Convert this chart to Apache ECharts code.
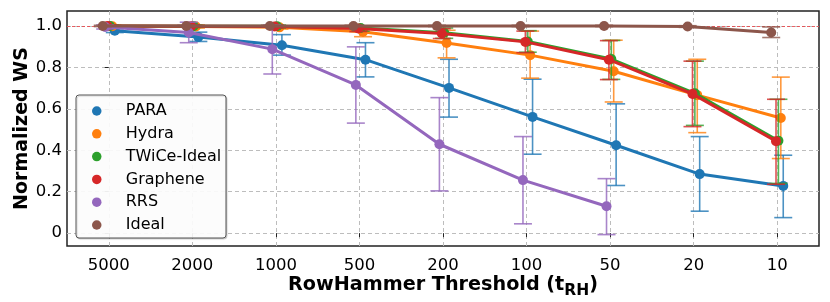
<!DOCTYPE html>
<html>
<head>
<meta charset="utf-8">
<script src="https://cdn.jsdelivr.net/npm/echarts@6/dist/echarts.min.js"></script>
<style>
html,body{margin:0;padding:0;background:#fff;}
#c{width:830px;height:302px;}
</style>
</head>
<body>
<div id="c"></div>
<script>
// ---- data ----
const categories = ['5000', '2000', '1000', '500', '200', '100', '50', '20', '10'];
const yTicks = [0, 0.2, 0.4, 0.6, 0.8, 1.0];
const yTickLabels = ['0', '0.2', '0.4', '0.6', '0.8', '1.0'];
const seriesNames = ['PARA', 'Hydra', 'TWiCe-Ideal', 'Graphene', 'RRS', 'Ideal'];

const paraVals  = [0.977, 0.946, 0.907, 0.837, 0.701, 0.561, 0.424, 0.285, 0.228];
const paraLo    = [0.968, 0.925, 0.859, 0.754, 0.560, 0.381, 0.230, 0.106, 0.075];
const paraHi    = [0.986, 0.970, 0.958, 0.919, 0.839, 0.743, 0.624, 0.466, 0.376];

const hydraVals = [0.998, 0.997, 0.993, 0.972, 0.918, 0.859, 0.781, 0.666, 0.556];
const hydraLo   = [0.990, 0.990, 0.985, 0.948, 0.846, 0.748, 0.633, 0.485, 0.360];
const hydraHi   = [1.005, 1.005, 1.000, 0.995, 0.979, 0.975, 0.931, 0.839, 0.753];

const twiceVals = [1.000, 0.999, 0.998, 0.990, 0.967, 0.925, 0.840, 0.675, 0.446];
const twiceLo   = [0.995, 0.993, 0.990, 0.975, 0.940, 0.873, 0.742, 0.520, 0.240];
const twiceHi   = [1.005, 1.004, 1.004, 1.000, 0.990, 0.977, 0.930, 0.830, 0.646];

const graphVals = [1.000, 0.999, 0.997, 0.988, 0.963, 0.923, 0.837, 0.672, 0.444];
const graphLo   = [0.995, 0.993, 0.990, 0.973, 0.939, 0.871, 0.741, 0.514, 0.236];
const graphHi   = [1.005, 1.004, 1.004, 1.000, 0.987, 0.975, 0.929, 0.830, 0.646];

const rrsVals   = [0.995, 0.968, 0.888, 0.715, 0.429, 0.256, 0.130, null, null];
const rrsLo     = [0.985, 0.919, 0.768, 0.531, 0.204, 0.045, -0.007, null, null];
const rrsHi     = [1.005, 1.018, 1.005, 0.899, 0.654, 0.466, 0.263, null, null];

const idealVals = [1.000, 1.000, 1.000, 1.000, 1.000, 1.000, 1.000, 0.997, 0.968];
const idealLo   = [0.997, 0.997, 0.997, 0.997, 0.997, 0.997, 0.997, 0.993, 0.944];
const idealHi   = [1.003, 1.003, 1.003, 1.003, 1.003, 1.003, 1.003, 1.001, 0.995];

// ---- styles ----
const colors = ['#1f77b4', '#ff7f0e', '#2ca02c', '#d62728', '#9467bd', '#8c564b'];
const dodge = [0.072, 0.043, 0.0144, -0.0144, -0.043, -0.072];
const FONT = 'DejaVu Sans';

const allVals = [paraVals, hydraVals, twiceVals, graphVals, rrsVals, idealVals];
const allLo = [paraLo, hydraLo, twiceLo, graphLo, rrsLo, idealLo];
const allHi = [paraHi, hydraHi, twiceHi, graphHi, rrsHi, idealHi];

const series = [];
seriesNames.forEach((name, s) => {
  const errData = [];
  categories.forEach((c, i) => {
    if (allVals[s][i] !== null) errData.push([i + dodge[s], allLo[s][i], allHi[s][i]]);
  });
  series.push({
    name: name + ' err',
    type: 'custom',
    z: 10 + 2 * s,
    silent: true,
    encode: { x: 0, y: [1, 2] },
    data: errData,
    renderItem: (params, api) => {
      const x = api.value(0);
      const lo = api.coord([x, api.value(1)]);
      const hi = api.coord([x, api.value(2)]);
      const cap = 9;
      const st = { stroke: colors[s], lineWidth: 1.6, opacity: 0.8 };
      return {
        type: 'group',
        children: [
          { type: 'line', shape: { x1: lo[0], y1: lo[1], x2: hi[0], y2: hi[1] }, style: st },
          { type: 'line', shape: { x1: lo[0] - cap, y1: lo[1], x2: lo[0] + cap, y2: lo[1] }, style: st },
          { type: 'line', shape: { x1: hi[0] - cap, y1: hi[1], x2: hi[0] + cap, y2: hi[1] }, style: st }
        ]
      };
    }
  });
  const lineSeries = {
    name: name,
    type: 'line',
    z: 11 + 2 * s,
    data: categories.map((c, i) => [i + dodge[s], allVals[s][i]]),
    symbol: 'circle',
    symbolSize: 10,
    showSymbol: true,
    connectNulls: false,
    itemStyle: { color: colors[s] },
    lineStyle: { color: colors[s], width: 3 },
    emphasis: { disabled: true }
  };
  if (s === 0) {
    lineSeries.markLine = {
      silent: true,
      symbol: ['none', 'none'],
      label: { show: false },
      lineStyle: { color: '#e8474a', type: [3, 2], width: 1.2, opacity: 0.85 },
      data: [{ yAxis: 1 }]
    };
  }
  series.push(lineSeries);
});

const option = {
  animation: false,
  backgroundColor: '#fff',
  textStyle: { fontFamily: FONT },
  grid: {
    left: 67, right: 11, top: 11, bottom: 56,
    containLabel: false,
    outerBoundsMode: 'none',
    show: true, borderColor: '#222', borderWidth: 1.5, backgroundColor: 'transparent'
  },
  xAxis: {
    type: 'value',
    min: -0.5,
    max: 8.5,
    name: '{a|RowHammer Threshold (t}{s|RH}{a|)}',
    nameLocation: 'middle',
    nameMoveOverlap: false,
    nameGap: 30,
    nameTextStyle: {
      rich: {
        a: { fontFamily: FONT, fontSize: 19.2, fontWeight: 'bold', color: '#000', lineHeight: 22, verticalAlign: 'top' },
        s: { fontFamily: FONT, fontSize: 15.5, fontWeight: 'bold', color: '#000', lineHeight: 22, verticalAlign: 'top', padding: [7, 0, 0, 0] }
      }
    },
    axisLine: { show: false },
    axisTick: { show: true, customValues: categories.map((c, i) => i), length: 4, lineStyle: { color: '#222', width: 1 } },
    axisLabel: {
      customValues: categories.map((c, i) => i),
      formatter: v => categories[Math.round(v)],
      fontFamily: FONT, fontSize: 16.5, color: '#000', margin: 11
    },
    splitLine: { show: true, lineStyle: { color: '#bdbdbd', type: [4, 3], width: 1 } }
  },
  yAxis: {
    type: 'value',
    min: -0.062,
    max: 1.072,
    name: 'Normalized WS',
    nameLocation: 'middle',
    nameMoveOverlap: false,
    nameGap: 35,
    nameTextStyle: { fontFamily: FONT, fontSize: 19, fontWeight: 'bold', color: '#000' },
    axisLine: { show: false },
    axisTick: { show: true, customValues: yTicks, length: 4, lineStyle: { color: '#222', width: 1 } },
    axisLabel: {
      customValues: yTicks,
      formatter: v => yTickLabels[yTicks.findIndex(t => Math.abs(t - v) < 1e-6)],
      fontFamily: FONT, fontSize: 16.5, color: '#000', margin: 5
    },
    splitLine: { show: true, lineStyle: { color: '#bdbdbd', type: [4, 3], width: 1 } }
  },
  legend: {
    data: seriesNames,
    orient: 'vertical',
    left: 92,
    top: 103,
    padding: 0,
    icon: 'circle',
    itemWidth: 48,
    itemHeight: 9.5,
    itemGap: 6.8,
    z: 41,
    selectedMode: false,
    textStyle: { fontFamily: FONT, fontSize: 16, color: '#000', lineHeight: 14 }
  },
  graphic: [{
    type: 'rect',
    z: 40,
    silent: true,
    shape: { x: 76, y: 95, width: 150, height: 143, r: 3 },
    style: {
      fill: 'rgba(255,255,255,0.92)', stroke: '#555', lineWidth: 1,
      shadowColor: 'rgba(0,0,0,0.18)', shadowOffsetX: 1, shadowOffsetY: 1, shadowBlur: 1
    }
  }],
  series: series
};

const chart = echarts.init(document.getElementById('c'), null, { renderer: 'canvas' });
chart.setOption(option);
</script>
</body>
</html>
